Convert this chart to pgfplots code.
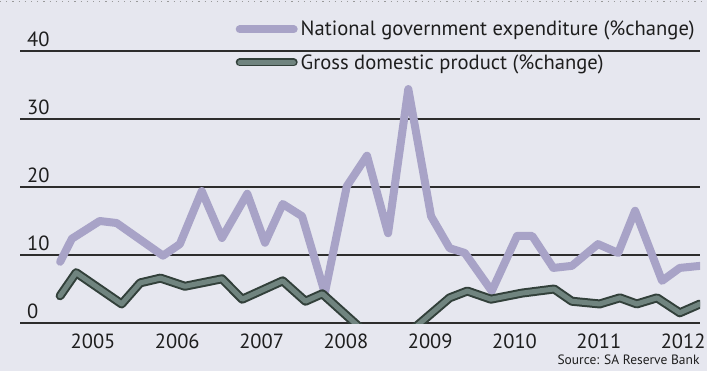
\documentclass[border=0pt]{standalone}
\usepackage{fontspec}
\setmainfont{PT Sans}
\usepackage{pgfplots}
\usepackage{pgfplotstable}
\pgfplotsset{compat=1.18}
\definecolor{bg}{RGB}{230,231,239}
\definecolor{expc}{RGB}{168,163,199}
\definecolor{gdpdark}{RGB}{50,64,58}
\definecolor{gdplight}{RGB}{112,132,127}
\definecolor{gridc}{RGB}{45,45,45}
\definecolor{txt}{RGB}{30,30,30}
\pgfplotstableread{
x y
2004.61 9.0
2004.75 12.4
2005.08 15.0
2005.28 14.7
2005.83 9.9
2006.03 11.6
2006.29 19.4
2006.53 12.5
2006.83 19.0
2007.04 11.8
2007.25 17.5
2007.48 15.7
2007.75 4.4
2008.01 20.1
2008.25 24.6
2008.50 13.2
2008.74 34.4
2009.01 15.7
2009.23 11.0
2009.41 10.3
2009.73 4.7
2010.03 12.8
2010.21 12.8
2010.46 8.1
2010.68 8.4
2010.99 11.6
2011.23 10.3
2011.43 16.5
2011.75 6.2
2011.96 8.1
2012.20 8.4
}\exptable
\pgfplotstableread{
x y
2004.61 4.0
2004.80 7.4
2005.34 2.8
2005.56 5.9
2005.80 6.6
2006.09 5.4
2006.53 6.5
2006.77 3.5
2007.25 6.2
2007.52 3.2
2007.72 4.3
2008.24 -1.5
2008.50 -6.3
2008.74 -1.5
2009.23 3.7
2009.44 4.7
2009.72 3.5
2010.09 4.4
2010.47 5.0
2010.68 3.2
2011.01 2.8
2011.25 3.7
2011.45 2.8
2011.69 3.7
2011.96 1.5
2012.20 2.8
}\gdptable
\begin{document}
\begin{tikzpicture}
\fill[bg] (-20bp,-48bp) rectangle (687bp,323bp);
\path[use as bounding box] (-20bp,-48bp) rectangle (687bp,323bp);
\draw[gray!80, line width=1bp, dash pattern=on 1.2bp off 5bp] (-20bp,321bp) -- (687bp,321bp);
\begin{axis}[
  at={(0,0)}, anchor=south west,
  scale only axis, width=680bp, height=321bp,
  xmin=2004.134, xmax=2012.2, ymin=0, ymax=47.2,
  axis line style={draw=none},
  major tick length=0pt,
  tick style={draw=none},
  ytick={0,10,20,30,40},
  ymajorgrids,
  grid style={gridc, line width=1.1bp},
  xtick={2005,2006,2007,2008,2009,2010,2011,2012},
  xticklabels={2005,2006,2007,2008,2009,2010,2011,2012},
  /pgf/number format/assume math mode=true,
  ticklabel style={font=\fontsize{20.5bp}{24bp}\selectfont, text=txt, inner sep=0pt},
  yticklabel style={anchor=south west, xshift=7bp, yshift=4bp},
  xticklabel style={anchor=north, yshift=-11bp},
  legend style={draw=none, fill=none, at={(rel axis cs:0.997,0.947)}, anchor=north east,
    font=\fontsize{20.6bp}{24bp}\selectfont, text=txt, row sep=13bp, inner sep=0pt,
    nodes={inner xsep=3bp}},
  legend cell align=left,
  clip=true,
]
\addplot[expc, line width=8bp, line join=round, line cap=round,
  legend image code/.code={\draw[expc, line width=8bp, line cap=round] (0bp,0bp) -- (54bp,0bp);}]
  table[x=x,y=y] {\exptable};
\addlegendentry{National government expenditure (\%change)}
\addplot[gdpdark, line width=9bp, line join=round, line cap=round,
  legend image code/.code={\draw[gdpdark, line width=8bp, line cap=round] (0bp,0bp) -- (54bp,0bp);
  \draw[gdplight, line width=4.5bp, line cap=round] (0bp,0bp) -- (54bp,0bp);}]
  table[x=x,y=y] {\gdptable};
\addlegendentry{Gross domestic product (\%change)}
\addplot[gdplight, line width=5bp, line join=round, line cap=round, forget plot]
  table[x=x,y=y] {\gdptable};
\end{axis}
\node[anchor=base east, text=txt, font=\fontsize{13.5bp}{16bp}\selectfont] at (683bp,-41bp) {Source: SA Reserve Bank};
\end{tikzpicture}
\end{document}
